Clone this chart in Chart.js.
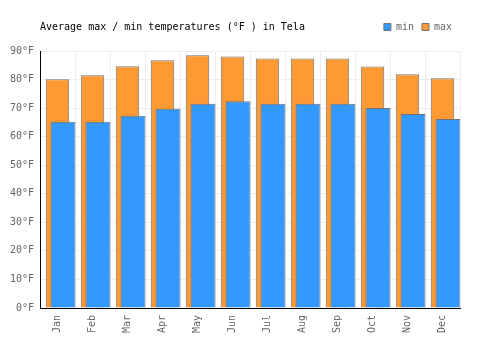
<!DOCTYPE html>
<html>
<head>
<meta charset="utf-8">
<script src="https://cdn.jsdelivr.net/npm/chart.js@4"></script>
<style>
  html, body { margin: 0; padding: 0; background: #fff; }
  #wrap { width: 500px; height: 350px; }
</style>
</head>
<body>
<div id="wrap"><canvas id="TempChart"></canvas></div>
<script>
const months = ['Jan', 'Feb', 'Mar', 'Apr', 'May', 'Jun', 'Jul', 'Aug', 'Sep', 'Oct', 'Nov', 'Dec'];
const min_temps = [65.2, 65.2, 67.3, 69.8, 71.5, 72.4, 71.5, 71.5, 71.5, 70.0, 67.9, 66.2];
const max_temps = [80.1, 81.5, 84.7, 86.8, 88.5, 88.1, 87.4, 87.4, 87.4, 84.6, 81.9, 80.5];
const y_ticks = [0, 10, 20, 30, 40, 50, 60, 70, 80, 90];

const mono = 'DejaVu Sans Mono';

const temp_data = {
    labels: months,
    datasets: [{
        label: 'min',
        data: min_temps,
        backgroundColor: 'rgb(51, 153, 255)',
        borderColor: 'rgb(115, 115, 115)',
        borderWidth: 1,
        order: 0,
        categoryPercentage: 0.629,
        barPercentage: 2.27
    }, {
        label: 'max',
        data: max_temps,
        backgroundColor: 'rgb(255, 153, 51)',
        borderColor: 'rgb(115, 115, 115)',
        borderWidth: 1,
        order: 1,
        grouped: false,
        categoryPercentage: 1,
        barPercentage: 0.67
    }, {
        // empty slot so that "min" sits in the right half of each month
        label: '',
        data: [],
        order: -1
    }]
};

const configTemp = {
    type: 'bar',
    data: temp_data,
    options: {
        responsive: true,
        maintainAspectRatio: false,
        animation: false,
        layout: {
            padding: { left: 0, right: 40, top: 14, bottom: 0 }
        },
        plugins: {
            title: {
                display: true,
                text: 'Average max / min temperatures (°F ) in Tela',
                align: 'start',
                fullSize: false,
                color: '#000',
                font: { family: mono, size: 10, weight: 'normal' },
                padding: { top: -21, bottom: 18 }
            },
            legend: {
                position: 'top',
                align: 'end',
                fullSize: false,
                weight: 3000,
                labels: {
                    filter: (item) => item.text !== '',
                    boxWidth: 7,
                    boxHeight: 7,
                    padding: 8,
                    color: '#666',
                    font: { family: mono, size: 10 }
                }
            },
            tooltip: { enabled: false }
        },
        scales: {
            x: {
                grid: { color: '#eeeeee', drawTicks: false },
                border: { color: '#000', width: 1 },
                ticks: {
                    minRotation: 90,
                    maxRotation: 90,
                    padding: 7,
                    color: '#666',
                    font: { family: mono, size: 10 }
                },
                afterFit: (scale) => { scale.height = 42; }
            },
            y: {
                min: 0,
                max: 90,
                grid: { color: '#eeeeee', drawTicks: false },
                border: { color: '#000', width: 1 },
                afterBuildTicks: (scale) => { scale.ticks = y_ticks.map(v => ({ value: v })); },
                ticks: {
                    padding: 6,
                    color: '#666',
                    font: { family: mono, size: 10 },
                    callback: (v) => v + '°F'
                },
                afterFit: (scale) => { scale.width = 40; }
            }
        }
    }
};

const TempChart = new Chart(
    document.getElementById('TempChart'),
    configTemp
);
</script>
</body>
</html>
